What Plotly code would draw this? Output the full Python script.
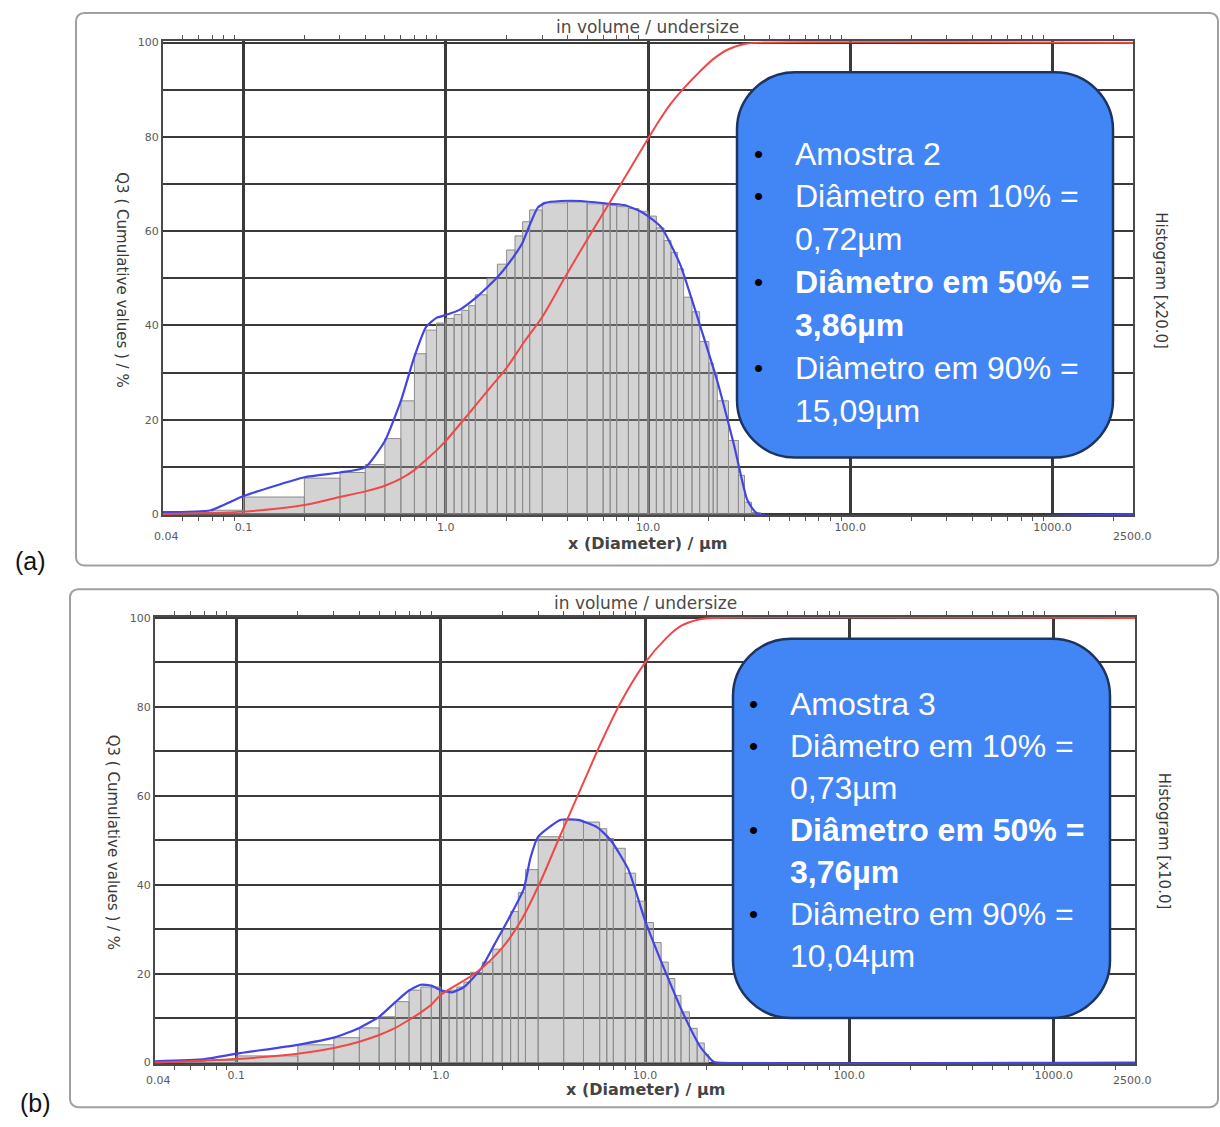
import math
import plotly.graph_objects as go

W, H = 1220, 1127

# ---------------- data ----------------
X_MIN, X_MAX = 0.04, 2500.0
X_TICKS = [0.1, 1, 10, 100, 1000]
X_TICK_TEXT = ["0.1", "1.0", "10.0", "100.0", "1000.0"]
Y_TICKS = [0, 10, 20, 30, 40, 50, 60, 70, 80, 90, 100]
Y_TICK_TEXT = ["0", "", "20", "", "40", "", "60", "", "80", "", "100"]

# Panel (a) - Amostra 2
EDGES_A = [0.04, 0.07, 0.1, 0.2, 0.3, 0.4, 0.5, 0.6, 0.7, 0.8, 0.9, 1.0, 1.1, 1.2, 1.3, 1.4,
           1.6, 1.8, 2.0, 2.2, 2.4, 2.6, 3.0, 4.0, 5.0, 6.0, 6.5, 7.0, 8.0, 9.0, 10.0, 11.0,
           12.0, 13.0, 14.0, 15.0, 16.5, 18.0, 20.0, 21.0, 22.0, 25.0, 28.0, 30.0, 32.5, 36.0]
HIST_A = [0.3, 0.8, 3.6, 7.6, 8.8, 10.5, 16.0, 24.0, 34.0, 39.0, 40.5, 41.5, 42.3, 43.2, 44.2,
          46.5, 50.0, 53.0, 56.0, 59.0, 62.0, 64.5, 66.0, 66.2, 65.8, 65.6, 65.5, 65.2, 64.8,
          64.2, 63.2, 60.7, 58.0, 55.5, 52.0, 46.0, 42.9, 36.6, 32.0, 30.0, 24.0, 15.6, 8.2,
          2.5, 0.3]
BLUE_A_X = [0.04, 0.069, 0.1, 0.2, 0.3, 0.4, 0.5, 0.6, 0.7, 0.8, 0.9, 1.0, 1.17, 1.42, 1.8,
            2.15, 2.4, 2.6, 2.85, 3.1, 3.7, 4.65, 6.5, 7.7, 9.1, 10.0, 11.7, 14.4, 18.7, 22.0,
            26.8, 31.0, 34.9, 2500.0]
BLUE_A_Y = [0.4, 0.8, 3.8, 7.8, 8.8, 9.9, 15.5, 24.0, 33.4, 39.7, 41.6, 42.2, 43.3, 46.0, 50.2,
            54.4, 57.6, 61.3, 65.0, 66.0, 66.4, 66.4, 65.8, 65.5, 64.3, 63.2, 60.7, 53.0, 38.0,
            28.2, 14.1, 2.9, 0.0, 0.0]
RED_A_X = [0.04, 0.1, 0.2, 0.3, 0.4, 0.5, 0.6, 0.7, 0.8, 0.9, 1.0, 1.3, 1.65, 2.0, 2.45, 3.0,
           3.86, 5.3, 7.35, 10.0, 11.5, 13.0, 15.09, 17.5, 21.0, 25.0, 30.0, 36.0, 2500.0]
RED_A_Y = [0.0, 0.5, 1.9, 3.6, 4.8, 6.0, 7.5, 9.3, 11.5, 13.5, 15.5, 21.3, 26.7, 31.0, 36.6, 41.8,
           50.0, 60.0, 70.0, 79.6, 83.8, 87.1, 90.4, 93.3, 96.5, 98.6, 99.7, 100.0, 100.0]

# Panel (b) - Amostra 3
EDGES_B = [0.04, 0.07, 0.1, 0.2, 0.3, 0.4, 0.5, 0.6, 0.7, 0.8, 0.9, 1.0, 1.1, 1.2, 1.3, 1.4,
           1.6, 1.8, 2.0, 2.2, 2.4, 2.6, 3.0, 4.0, 5.0, 6.0, 6.5, 7.0, 8.0, 9.0, 10.0, 11.0,
           12.0, 13.0, 14.0, 15.0, 16.5, 18.0, 19.5, 20.5]
HIST_B = [0.2, 0.5, 1.5, 4.0, 5.6, 7.8, 10.3, 13.7, 16.3, 17.0, 17.0, 15.9, 16.3, 17.0, 18.1,
          20.3, 22.6, 25.5, 30.0, 34.0, 38.2, 43.4, 50.8, 54.5, 54.1, 52.6, 50.4, 48.2, 42.6,
          36.3, 31.5, 27.0, 22.6, 18.9, 15.1, 11.4, 7.7, 4.4, 1.8]
BLUE_B_X = [0.04, 0.07, 0.1, 0.2, 0.3, 0.4, 0.5, 0.6, 0.7, 0.8, 0.9, 1.0, 1.14, 1.3, 1.57,
            1.84, 2.15, 2.55, 2.75, 3.0, 3.87, 4.7, 5.8, 6.8, 8.3, 10.0, 12.8, 15.5, 18.8,
            21.6, 22.5, 2500.0]
BLUE_B_Y = [0.3, 0.8, 2.0, 4.0, 5.6, 7.8, 10.3, 13.6, 16.2, 17.5, 17.3, 16.3, 15.8, 17.0, 21.0,
            26.7, 32.3, 39.0, 46.0, 50.8, 54.6, 54.6, 53.0, 50.0, 43.4, 32.0, 19.6, 10.7, 3.3,
            0.2, 0.0, 0.0]
RED_B_X = [0.04, 0.1, 0.2, 0.3, 0.4, 0.5, 0.6, 0.7, 0.8, 0.9, 1.0, 1.5, 2.0, 2.5, 3.1, 3.76,
           5.0, 6.1, 7.6, 10.04, 12.6, 15.0, 18.6, 22.0, 2500.0]
RED_B_Y = [0.0, 0.8, 2.0, 3.3, 4.7, 6.2, 7.8, 9.6, 11.3, 13.0, 15.2, 20.3, 25.8, 32.3, 41.0, 50.0,
           63.0, 72.0, 81.0, 90.0, 95.3, 98.2, 99.7, 100.0, 100.0]

INFO_A = [("Amostra 2", False, True), ("Diâmetro em 10% =", False, True), ("0,72µm", False, False),
          ("Diâmetro em 50% =", True, True), ("3,86µm", True, False),
          ("Diâmetro em 90% =", False, True), ("15,09µm", False, False)]
INFO_B = [("Amostra 3", False, True), ("Diâmetro em 10% =", False, True), ("0,73µm", False, False),
          ("Diâmetro em 50% =", True, True), ("3,76µm", True, False),
          ("Diâmetro em 90% =", False, True), ("10,04µm", False, False)]

FONT = "Liberation Sans, Arial, sans-serif"
CFONT = "DejaVu Sans, Verdana, sans-serif"
GRID = "#3a3a3a"
LABEL = "#5a5a5a"
PAD = 0.3


def px(x):
    return x / W


def py(y):
    return 1 - y / H


def bar_polys(edges, heights):
    xs, ys = [], []
    for lo, hi, h in zip(edges[:-1], edges[1:], heights):
        xs += [lo, lo, hi, hi, lo, None]
        ys += [0, h, h, 0, 0, None]
    return xs, ys


def round_rect(x0, y0, x1, y1, r):
    k = 0.5523 * r
    pts = [
        f"M {px(x0 + r)},{py(y0)}",
        f"L {px(x1 - r)},{py(y0)}",
        f"C {px(x1 - r + k)},{py(y0)} {px(x1)},{py(y0 + r - k)} {px(x1)},{py(y0 + r)}",
        f"L {px(x1)},{py(y1 - r)}",
        f"C {px(x1)},{py(y1 - r + k)} {px(x1 - r + k)},{py(y1)} {px(x1 - r)},{py(y1)}",
        f"L {px(x0 + r)},{py(y1)}",
        f"C {px(x0 + r - k)},{py(y1)} {px(x0)},{py(y1 - r + k)} {px(x0)},{py(y1 - r)}",
        f"L {px(x0)},{py(y0 + r)}",
        f"C {px(x0)},{py(y0 + r - k)} {px(x0 + r - k)},{py(y0)} {px(x0 + r)},{py(y0)}",
        "Z",
    ]
    return " ".join(pts)


minor_vals = [m * 10 ** e for e in range(-2, 4) for m in range(2, 10)
              if X_MIN < m * 10 ** e < X_MAX] + [0.05, 0.06, 0.07, 0.08, 0.09]
minor_vals = sorted(set(v for v in minor_vals if v > X_MIN))

fig = go.Figure()

panels = [
    dict(xa="x", ya="y", edges=EDGES_A, hist=HIST_A, bx=BLUE_A_X, by=BLUE_A_Y, rx=RED_A_X, ry=RED_A_Y),
    dict(xa="x2", ya="y2", edges=EDGES_B, hist=HIST_B, bx=BLUE_B_X, by=BLUE_B_Y, rx=RED_B_X, ry=RED_B_Y),
]
for p in panels:
    bxs, bys = bar_polys(p["edges"], p["hist"])
    fig.add_trace(go.Scatter(x=bxs, y=bys, mode="lines", fill="toself",
                             fillcolor="rgba(150,150,150,0.42)",
                             line=dict(color="#8c8c8c", width=1),
                             xaxis=p["xa"], yaxis=p["ya"], showlegend=False, hoverinfo="skip"))
    fig.add_trace(go.Scatter(x=p["bx"], y=p["by"], mode="lines",
                             line=dict(color="#4444e4", width=2.2, shape="spline", smoothing=0.5),
                             xaxis=p["xa"], yaxis=p["ya"], showlegend=False))
    fig.add_trace(go.Scatter(x=p["rx"], y=p["ry"], mode="lines",
                             line=dict(color="#f04848", width=2, shape="spline", smoothing=0.8),
                             xaxis=p["xa"], yaxis=p["ya"], showlegend=False))


def xaxis(domain, anchor):
    return dict(domain=domain, anchor=anchor, type="log",
                range=[math.log10(X_MIN), math.log10(X_MAX)],
                tickvals=X_TICKS, ticktext=X_TICK_TEXT,
                tickfont=dict(family=CFONT, size=11, color=LABEL),
                ticks="", ticklabelstandoff=0,
                showgrid=True, gridcolor=GRID, gridwidth=3,
                showline=True, linecolor="#4a4a4a", linewidth=2, mirror="allticks",
                minor=dict(tickvals=minor_vals, ticks="outside", ticklen=4,
                           tickcolor="#555", showgrid=False),
                zeroline=False)


def yaxis(top_px, bottom_px, anchor):
    scale = (bottom_px - top_px) / 100.0
    domain = [py(bottom_px + PAD * scale), py(top_px - PAD * scale)]
    return dict(domain=domain, anchor=anchor, range=[-PAD, 100 + PAD],
                tickvals=Y_TICKS, ticktext=Y_TICK_TEXT,
                tickfont=dict(family=CFONT, size=11, color=LABEL),
                ticks="", showgrid=True, gridcolor=GRID, gridwidth=2,
                showline=True, linecolor="#4a4a4a", linewidth=2, mirror=True,
                zeroline=False)


fig.update_layout(
    width=W, height=H, margin=dict(l=0, r=0, t=0, b=0),
    paper_bgcolor="white", plot_bgcolor="white", showlegend=False,
    xaxis=xaxis([px(163), px(1133)], "y"),
    yaxis=yaxis(38, 514, "x"),
    xaxis2=xaxis([px(155), px(1135)], "y2"),
    yaxis2=yaxis(619, 1068, "x2"),
)

shapes = [
    dict(type="path", path=round_rect(76, 8, 1218, 566, 8), xref="paper", yref="paper",
         line=dict(color="#a0a0a0", width=2), layer="below"),
    dict(type="path", path=round_rect(70, 590, 1218, 1113, 8), xref="paper", yref="paper",
         line=dict(color="#a0a0a0", width=2), layer="below"),
    dict(type="path", path=round_rect(737, 68, 1113, 457, 58), xref="paper", yref="paper",
         fillcolor="#4285f4", line=dict(color="#1d3461", width=2.5), layer="above"),
    dict(type="path", path=round_rect(733, 640, 1110, 1023, 58), xref="paper", yref="paper",
         fillcolor="#4285f4", line=dict(color="#1d3461", width=2.5), layer="above"),
]
fig.update_layout(shapes=shapes)

ann = []


def text(x, y, s, size, color="#444", angle=0, xanchor="center", bold=False, family=FONT):
    ann.append(dict(x=px(x), y=py(y), xref="paper", yref="paper", text=(f"<b>{s}</b>" if bold else s),
                    showarrow=False, textangle=angle, xanchor=xanchor, yanchor="middle",
                    font=dict(family=family, size=size, color=color)))


# panel (a) texts
text(647, 22, "in volume / undersize", 17, "#4a4a4a", family=CFONT)
text(647, 544, "x (Diameter) / µm", 16, "#444", bold=True, family=CFONT)
text(166, 537, "0.04", 11, LABEL, family=CFONT)
text(1132, 537, "2500.0", 11, LABEL, family=CFONT)
text(122, 277, "Q3 ( Cumulative values ) / %", 15, "#3a3a3a", angle=90, family=CFONT)
text(1161, 278, "Histogram [x20.0]", 15, "#3a3a3a", angle=90, family=CFONT)
text(30, 561, "(a)", 25, "#111")
# panel (b) texts
text(645, 604, "in volume / undersize", 17, "#4a4a4a", family=CFONT)
text(645, 1095, "x (Diameter) / µm", 16, "#444", bold=True, family=CFONT)
text(158, 1086, "0.04", 11, LABEL, family=CFONT)
text(1132, 1086, "2500.0", 11, LABEL, family=CFONT)
text(113, 845, "Q3 ( Cumulative values ) / %", 15, "#3a3a3a", angle=90, family=CFONT)
text(1164, 844, "Histogram [x10.0]", 15, "#3a3a3a", angle=90, family=CFONT)
text(35, 1109, "(b)", 25, "#111")

for info, tx, bxp, y0 in [(INFO_A, 793, 758, 150), (INFO_B, 788, 753, 706)]:
    step = 43.3 if info is INFO_A else 42.4
    for i, (s, bold, bullet) in enumerate(info):
        y = y0 + i * step
        text(tx, y, s, 32, "white", xanchor="left", bold=bold)
        if bullet:
            text(bxp, y, "•", 26, "#000", xanchor="center")

fig.update_layout(annotations=ann)

fig.write_html("out.html")
